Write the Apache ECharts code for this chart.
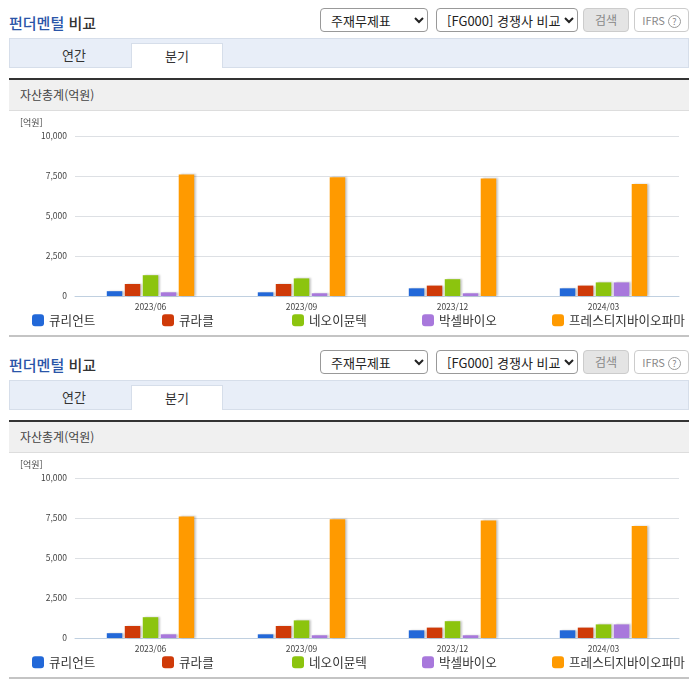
<!DOCTYPE html>
<html lang="ko">
  <head>
    <meta charset="UTF-8" />
    <title>펀더멘털 비교</title>
    <style>
      * { margin: 0; padding: 0; box-sizing: border-box; }
      body { width: 696px; height: 684px; background: #fff; overflow: hidden; position: relative;
        font-family: "Noto Sans CJK KR", "Noto Sans", sans-serif; color: #333; }
      .panel { position: absolute; left: 0; width: 696px; height: 342px; }
      .panel > * { position: absolute; }
      .title { left: 9px; top: 13px; font-size: 15px; line-height: 20px; font-weight: 500; color: #333; }
      .title b { font-weight: 500; color: #2a55a8; }
      select { height: 24px; top: 8px; background: #fff; border: 1px solid #999; border-radius: 4px;
        font-family: inherit; font-size: 13px; color: #222; padding-left: 6px; }
      .btn { top: 8px; height: 24px; border-radius: 4px; font-size: 12px; line-height: 22px; text-align: center; }
      .search { left: 583px; width: 46px; background: #e4e4e4; border: 1px solid #ccc; color: #888; }
      .ifrs { left: 634px; width: 55px; background: #fff; border: 1px solid #ccc; color: #888; font-size: 11px; }
      .ifrs i { display: inline-block; width: 13px; height: 13px; margin-left: 3px; border: 1px solid #999; border-radius: 50%;
        font-style: normal; font-size: 9px; line-height: 11px; vertical-align: 0; }
      .tabs { left: 9px; top: 38px; width: 680px; height: 30px; background: #e8eef8; border: 1px solid #d6deea; }
      .tab { top: 43px; height: 25px; font-size: 13px; line-height: 23px; text-align: center; color: #333; }
      .tab.on { left: 131px; width: 92px; background: #fff; border: 1px solid #d6deea; border-bottom: 0; }
      .head { left: 9px; top: 78px; width: 680px; height: 33px; background: #f0f0f0; border-top: 2px solid #333;
        border-bottom: 1px solid #ddd; font-size: 12px; line-height: 30px; padding-left: 11px; color: #444; }
      .chart { left: 0; top: 112px; width: 696px; height: 222px; }
      .rule { left: 9px; top: 335px; width: 680px; height: 2px; background: #c4c4c4; }
    </style>
  </head>
  <body>
    <script src="https://cdn.jsdelivr.net/npm/echarts@6/dist/echarts.min.js"></script>
    <script>
      // chart data
      var periods = ["2023/06", "2023/09", "2023/12", "2024/03"];
      var names = ["큐리언트", "큐라클", "네오이뮨텍", "박셀바이오", "프레스티지바이오파마"];
      var colors = ["#2268d8", "#cf3a08", "#8cc40e", "#a878dc", "#ff9a00"];
      var curient = [300, 230, 480, 480];
      var curacle = [750, 750, 650, 650];
      var neoimmune = [1300, 1100, 1050, 850];
      var vaxcell = [230, 170, 170, 850];
      var prestige = [7600, 7420, 7350, 7000];
      var seriesValues = [curient, curacle, neoimmune, vaxcell, prestige];
      var legendLeft = [32, 162, 292, 422, 552];
      var panelTops = [0, 342];

      function addPanel(top) {
        var el = document.createElement("div");
        el.className = "panel";
        el.style.top = top + "px";
        el.innerHTML =
          '<div class="title"><b>펀더멘털</b> 비교</div>' +
          '<select style="left:320px;width:108px"><option>주재무제표</option></select>' +
          '<select style="left:436px;width:142px"><option>[FG000] 경쟁사 비교</option></select>' +
          '<div class="btn search">검색</div>' +
          '<div class="btn ifrs">IFRS<i>?</i></div>' +
          '<div class="tabs"></div>' +
          '<div class="tab" style="left:28px;width:92px">연간</div>' +
          '<div class="tab on">분기</div>' +
          '<div class="head">자산총계(억원)</div>' +
          '<div class="chart"></div>' +
          '<div class="rule"></div>';
        document.body.appendChild(el);
        return el.querySelector(".chart");
      }

      function draw(dom) {
        var myChart = echarts.init(dom);
        myChart.setOption({
          animation: false,
          textStyle: { fontFamily: "Noto Sans CJK KR" },
          grid: { left: 75, right: 17, top: 24, height: 160 },
          legend: names.map(function (name, i) {
            return {
              data: [name],
              left: legendLeft[i],
              top: 202,
              padding: 0,
              icon: "roundRect",
              itemWidth: 12,
              itemHeight: 12,
              itemGap: 5,
              textStyle: { fontSize: 12.6, color: "#333" },
            };
          }),
          xAxis: {
            type: "category",
            data: periods,
            axisLine: { lineStyle: { color: "#c0d0e0" } },
            axisTick: { length: 5, lineStyle: { color: "#c0d0e0" } },
            axisLabel: { fontSize: 8.5, color: "#444", margin: 7 },
          },
          yAxis: {
            type: "value",
            min: 0,
            max: 10000,
            interval: 2500,
            name: "[억원]",
            nameLocation: "end",
            nameGap: 9,
            nameTextStyle: { fontSize: 9, color: "#444", align: "left", padding: [0, 0, 0, -55] },
            axisLine: { show: false },
            axisTick: { show: false },
            axisLabel: {
              fontSize: 8.5,
              color: "#444",
              margin: 8,
              formatter: function (v) {
                return v.toLocaleString("en-US");
              },
            },
            splitLine: { lineStyle: { color: "#dde0e4" } },
          },
          series: names.map(function (name, i) {
            return {
              name: name,
              type: "bar",
              data: seriesValues[i],
              barWidth: 15.5,
              barGap: "16%",
              itemStyle: {
                color: colors[i],
                shadowColor: "rgba(0,0,0,0.22)",
                shadowBlur: 2,
                shadowOffsetX: 2,
                shadowOffsetY: 0,
              },
            };
          }),
        });
      }

      panelTops.forEach(function (top) {
        draw(addPanel(top));
      });
    </script>
  </body>
</html>
